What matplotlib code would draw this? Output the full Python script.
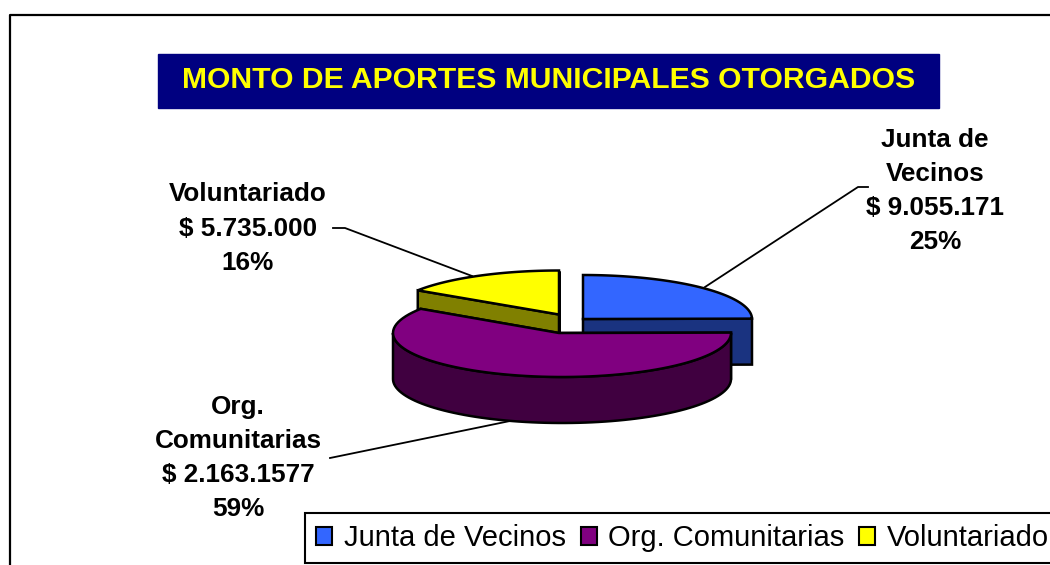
import numpy as np
import matplotlib
matplotlib.use('Agg')
import matplotlib.pyplot as plt
from matplotlib.patches import Patch, Polygon, Rectangle

categories = ['Junta de Vecinos', 'Org. Comunitarias', 'Voluntariado']
amounts = [9055171, 21631577, 5735000]
amount_labels = ['$ 9.055.171', '$ 2.163.1577', '$ 5.735.000']
percent_labels = ['25%', '59%', '16%']
title = 'MONTO DE APORTES MUNICIPALES OTORGADOS'

top_colors = ['#3366FF', '#800080', '#FFFF00']
side_colors = ['#1A3380', '#400040', '#808000']

plt.rcParams['font.family'] = ['Liberation Sans', 'DejaVu Sans']

fig = plt.figure(figsize=(10.5, 5.65), dpi=100)
ax = fig.add_axes([0, 0, 1, 1])
ax.set_xlim(0, 1050)
ax.set_ylim(565, 0)
ax.axis('off')

# outer chart border, runs off the right and bottom of the picture
ax.plot([9.5, 9.5, 1050], [565, 14.5, 14.5], color='black', lw=1.6, zorder=1)

# title box
ax.add_patch(Rectangle((158, 54), 781, 54, color='#000080', zorder=1))
ax.text(549, 80, title, color='#FFFF00', fontsize=21.7, fontweight='bold',
        ha='center', va='center', zorder=2)

# pie geometry, slices go clockwise from 12 o'clock
rx, ry, depth = 169, 44, 46
fractions = np.array(amounts) / sum(amounts)
ends = 90 - 360 * np.cumsum(fractions)
starts = np.r_[90, ends[:-1]]

# apex = tip of the slice, centre = middle of its ellipse
apex = [(583, 319), (559, 333), (559, 314.5)]
centre = [(583, 319), (562, 333), (559, 314.5)]
pie_lw = 1.8


def arc(c, a, b):
    t = np.radians(np.linspace(a, b, 80))
    return np.c_[c[0] + rx * np.cos(t), c[1] - ry * np.sin(t)]


def draw_slice(i, z):
    a, b = starts[i], ends[i]
    edge = arc(centre[i], a, b)
    down = np.array([0, depth])
    tip = np.array(apex[i])
    # cut faces
    for p in (edge[0], edge[-1]):
        ax.add_patch(Polygon([tip, p, p + down, tip + down], fc=side_colors[i],
                             ec='black', lw=pie_lw, zorder=z))
    # outer wall, only the front half of the ellipse shows
    lo, hi = max(b, -180), min(a, 0)
    if hi > lo:
        wall = arc(centre[i], lo, hi)
        ax.add_patch(Polygon(np.r_[wall, wall[::-1] + down], fc=side_colors[i],
                             ec='black', lw=pie_lw, zorder=z))
    ax.add_patch(Polygon(np.r_[[tip], edge], fc=top_colors[i], ec='black',
                         lw=pie_lw, zorder=z))


# back to front: blue, yellow, purple
draw_slice(0, 3)
draw_slice(2, 4)
draw_slice(1, 5)

# leader lines
ax.plot([705, 858, 868], [287, 187, 187], color='black', lw=1.3, zorder=2)
ax.plot([333, 345, 472], [228, 228, 276], color='black', lw=1.3, zorder=2)
ax.plot([330, 510], [458, 421], color='black', lw=1.3, zorder=2)

# data labels
label_font = dict(fontsize=18.8, fontweight='bold', ha='center', va='center',
                  linespacing=1.54, zorder=8)
ax.text(935, 191, 'Junta de\nVecinos\n%s\n%s' % (amount_labels[0], percent_labels[0]),
        **label_font)
ax.text(238, 458, 'Org.\nComunitarias\n%s\n%s' % (amount_labels[1], percent_labels[1]),
        **label_font)
ax.text(248, 228.5, '%s\n%s\n%s' % (categories[2], amount_labels[2], percent_labels[2]),
        **label_font)

handles = [Patch(fc=c, ec='black', lw=1.5) for c in top_colors]
# right side of the legend frame falls off the picture
leg = ax.legend(handles, categories, ncol=3, fontsize=21, frameon=True,
                fancybox=False, edgecolor='black', framealpha=1,
                loc='lower right', bbox_to_anchor=(1060, 563),
                bbox_transform=ax.transData,
                handlelength=0.55, handleheight=0.58, handletextpad=0.4,
                columnspacing=0.5, borderpad=0.38, borderaxespad=0)
leg.get_frame().set_linewidth(1.5)
leg.set_zorder(9)

fig.savefig('out.png', dpi=100)
